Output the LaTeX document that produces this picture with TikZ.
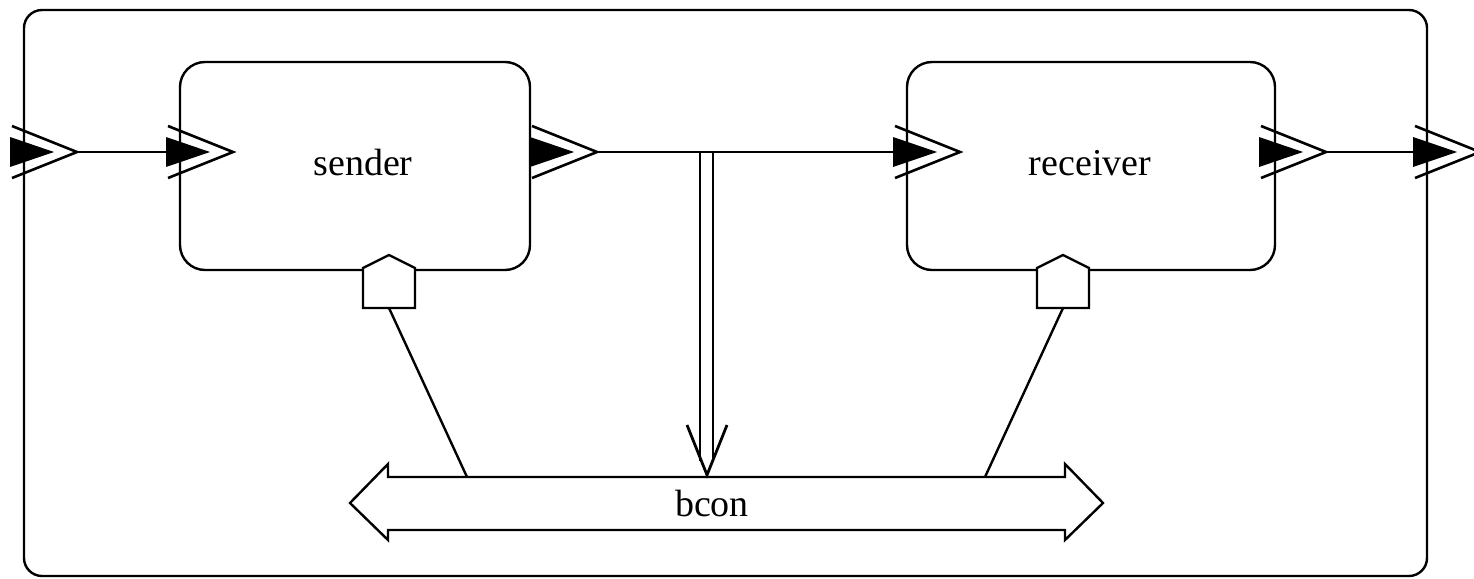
\documentclass[tikz,border=0pt]{standalone}
\usepackage{fontspec}
\setmainfont{Liberation Serif}
\begin{document}
\begin{tikzpicture}[x=1pt,y=-1pt,
  line/.style={line width=2.4pt},
  capsule/.style={draw,line width=2.4pt,rounded corners=25pt,inner sep=0pt},
  label/.style={font=\fontsize{38}{40}\selectfont,inner sep=0pt},
  port/.pic={
    \fill (-14,-15) -- (30,0) -- (-14,15) -- cycle;
    \draw[line width=2.6pt] (-12,-26) -- (53,0) -- (-12,26);
  },
  house/.style={draw,fill=white,line width=2.4pt,line join=miter}
]
\useasboundingbox (0,0) rectangle (1474,578);

% enclosing block
\node[capsule,rounded corners=18pt,minimum width=1403pt,minimum height=566pt] (outer) at (725.5,293) {};

% inner blocks
\node[capsule,minimum width=350pt,minimum height=208pt] (sender) at (355,166) {};
\node[capsule,minimum width=368pt,minimum height=208pt] (receiver) at (1091,166) {};
\node[label] (sendertxt) at (363,163) {sender};
\node[label] (receivertxt) at (1090,163) {receiver};

% port anchors: base of the filled head and tip of the chevron
\coordinate (pinA) at (24,152);   \coordinate (pinAtip) at (77,152);
\coordinate (psIn) at (180,152);  \coordinate (psInBase) at (166,152);
\coordinate (psOut) at (544,152); \coordinate (psOutTip) at (597,152);
\coordinate (prIn) at (907,152);  \coordinate (prInBase) at (893,152);
\coordinate (prOut) at (1273,152);\coordinate (prOutTip) at (1326,152);
\coordinate (poOut) at (1427,152);\coordinate (poOutBase) at (1413,152);

% signal flow
\draw[line] (pinAtip) -- (psInBase);
\draw[line] (psOutTip) -- (prInBase);
\draw[line] (prOutTip) -- (poOutBase);

\pic at (pinA) {port};
\pic at (psIn) {port};
\pic at (psOut) {port};
\pic at (prIn) {port};
\pic at (prOut) {port};
\pic at (poOut) {port};

% bus connector
\draw[line,fill=white,line join=miter]
  (350,503) -- (388,464) -- (388,477) -- (1065,477) -- (1065,464)
  -- (1103,503) -- (1065,540) -- (1065,530) -- (388,530) -- (388,540) -- cycle;
\node[label] (bcon) at (712,503) {bcon};

% double arrow from the signal line down to the bus
\coordinate (tapA) at (700,153);
\coordinate (tapB) at (713,153);
\coordinate (tapAend) at (700,461);
\coordinate (tapBend) at (713,461);
\coordinate (vl) at (687,425);
\coordinate (vt) at (707,475);
\coordinate (vr) at (727,425);
\draw[line] (tapA) -- (tapAend);
\draw[line] (tapB) -- (tapBend);
\draw[line,line width=2.8pt,line join=miter] (vl) -- (vt) -- (vr);

% bus ports on the blocks
\draw[house] (363,308) -- (363,268) -- (389,255) -- (415,268) -- (415,308) -- cycle;
\draw[house] (1037,308) -- (1037,268) -- (1063,255) -- (1089,268) -- (1089,308) -- cycle;
\coordinate (sbus) at (389,308);
\coordinate (rbus) at (1063,308);
\coordinate (sbusEnd) at (467,477);
\coordinate (rbusEnd) at (985,477);
\draw[line] (sbus) -- (sbusEnd);
\draw[line] (rbus) -- (rbusEnd);
\end{tikzpicture}
\end{document}
